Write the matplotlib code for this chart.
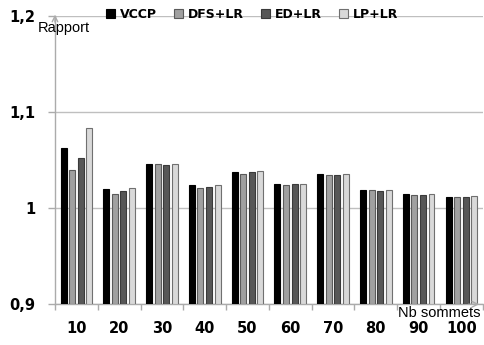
import matplotlib
matplotlib.use("Agg")
import matplotlib.pyplot as plt
import numpy as np

categories = ["10", "20", "30", "40", "50", "60", "70", "80", "90", "100"]
series_names = ["VCCP", "DFS+LR", "ED+LR", "LP+LR"]
vccp = [1.063, 1.0204, 1.0458, 1.024, 1.0375, 1.025, 1.0354, 1.0187, 1.0146, 1.012]
dfs_lr = [1.040, 1.0146, 1.0458, 1.0208, 1.0354, 1.024, 1.0344, 1.0187, 1.0135, 1.0114]
ed_lr = [1.052, 1.0183, 1.045, 1.0219, 1.0375, 1.025, 1.0344, 1.018, 1.0135, 1.0114]
lp_lr = [1.0836, 1.0208, 1.0458, 1.0243, 1.0385, 1.025, 1.0357, 1.0187, 1.0146, 1.0125]
yticks = [0.9, 1.0, 1.1, 1.2]
ytick_labels = ["0,9", "1", "1,1", "1,2"]

colors = ["#000000", "#a0a0a0", "#575757", "#d9d9d9"]
edges = ["#000000", "#5a5a5a", "#3a3a3a", "#707070"]
axis_gray = "#ababab"

plt.rcParams['font.family'] = ['DejaVu Sans']

fig = plt.figure(figsize=(4.84, 3.45), dpi=100)
ax = fig.add_axes([0.1136, 0.118, 0.884, 0.835])

x = np.arange(len(categories))
offsets = [-0.3, -0.1, 0.1, 0.3]
for vals, name, c, ec, off in zip([vccp, dfs_lr, ed_lr, lp_lr], series_names, colors, edges, offsets):
    ax.bar(x + off, np.array(vals) - 0.9, bottom=0.9, width=0.14, color=c,
           edgecolor=ec, linewidth=0.8, label=name, zorder=3)

ax.set_xlim(-0.5, len(categories) - 0.5)
ax.set_ylim(0.9, 1.2)
ax.set_yticks(yticks)
ax.set_yticklabels(ytick_labels, fontsize=10.5, fontweight='bold')
ax.set_xticks(x)
ax.set_xticklabels(categories, fontsize=10.5, fontweight='bold')
ax.set_xticks(np.arange(len(categories) + 1) - 0.5, minor=True)
ax.tick_params(axis='x', which='major', length=0, pad=12)
ax.tick_params(axis='x', which='minor', length=4, color=axis_gray, width=1)
ax.tick_params(axis='y', length=5, color=axis_gray, width=1, pad=9)

ax.yaxis.grid(True, color="#bfbfbf", linewidth=1, zorder=0)
ax.set_axisbelow(True)
for s in ["top", "right"]:
    ax.spines[s].set_visible(False)
for s in ["left", "bottom"]:
    ax.spines[s].set_color(axis_gray)
    ax.spines[s].set_linewidth(1)

# arrows at the ends of the axes
ax.annotate("", xy=(0, 1.015), xycoords='axes fraction', xytext=(0, 0.97),
            arrowprops=dict(arrowstyle='->', color=axis_gray, lw=1))
ax.annotate("", xy=(0.998, 0), xycoords='axes fraction', xytext=(0.96, 0),
            arrowprops=dict(arrowstyle='->', color=axis_gray, lw=1))

fig.text(64 / 484, 1 - 28 / 345, "Rapport", ha='center', va='center',
         fontsize=10.5, family=['Liberation Sans', 'DejaVu Sans'])
fig.text(481 / 484, 1 - 313 / 345, "Nb sommets", ha='right', va='center',
         fontsize=10.5, family=['Liberation Sans', 'DejaVu Sans'])

ax.legend(loc='center left', bbox_to_anchor=(0.119, 1.005), ncol=4, frameon=False,
          prop={'weight': 'bold', 'size': 9}, handlelength=0.72, handleheight=0.72,
          handletextpad=0.4, columnspacing=1.36, borderaxespad=0, borderpad=0)

fig.savefig("out.png", dpi=100)
